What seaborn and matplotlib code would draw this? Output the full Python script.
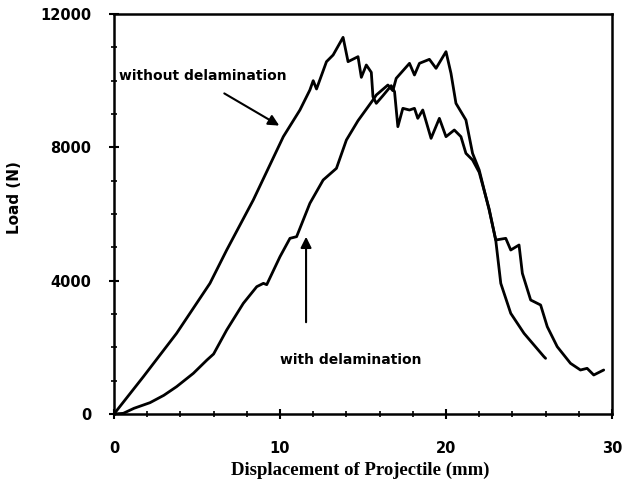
import matplotlib
matplotlib.use("Agg")
import matplotlib.pyplot as plt
import matplotlib.ticker as mticker
import pandas as pd
import seaborn as sns

DISP_WITHOUT = [0, 1.77, 3.77, 5.78, 6.79, 8.39, 10.2, 11.2, 11.8, 12.0, 12.2, 12.8, 13.2, 13.8,
                14.1, 14.7, 14.9, 15.2, 15.5, 15.6, 15.8, 16.2, 16.7, 16.9, 17.1, 17.4, 17.8, 18.1,
                18.3, 18.6, 19.1, 19.6, 20.0, 20.5, 20.9, 21.2, 21.6, 22.0, 22.6, 23.0, 23.3,
                23.9, 24.7, 25.9, 26.0]
LOAD_WITHOUT = [0, 1120, 2420, 3920, 4920, 6420, 8320, 9120, 9720, 10000, 9750, 10570, 10770, 11300,
                10570, 10720, 10100, 10470, 10250, 9520, 9320, 9550, 9850, 9670, 8620, 9170, 9120, 9170,
                8870, 9120, 8270, 8870, 8320, 8520, 8320, 7820, 7620, 7250, 6150, 5200, 3920,
                3020, 2420, 1720, 1670]

DISP_WITH = [0, 0.56, 1.2, 2.17, 3.0, 3.77, 4.78, 5.6, 6.0, 6.79, 7.79, 8.6, 9.0, 9.2, 10.0, 10.6,
             11.0, 11.8, 12.6, 13.4, 14.0, 14.7, 15.6, 15.8, 16.5, 16.8, 17.0, 17.8, 18.1, 18.4,
             19.0, 19.4, 20.0, 20.3, 20.6, 21.2, 21.6, 22.0, 22.6, 23.0, 23.6, 23.9, 24.4, 24.6,
             25.1, 25.7, 26.1, 26.7, 27.5, 28.1, 28.5, 28.9, 29.5]
LOAD_WITH = [0, 20, 170, 340, 560, 820, 1220, 1620, 1800, 2520, 3320, 3820, 3920, 3880, 4720, 5270,
             5320, 6320, 7020, 7370, 8220, 8800, 9420, 9570, 9870, 9700, 10070, 10520, 10170, 10520,
             10640, 10370, 10870, 10220, 9320, 8820, 7820, 7320, 6120, 5220, 5270, 4920, 5070, 4220,
             3420, 3270, 2620, 2020, 1520, 1320, 1370, 1170, 1320]

X_TICKS = [0, 10, 20, 30]
Y_TICKS = [0, 4000, 8000, 12000]

df = pd.concat([
    pd.DataFrame({"disp": DISP_WITHOUT, "load": LOAD_WITHOUT, "case": "without delamination"}),
    pd.DataFrame({"disp": DISP_WITH, "load": LOAD_WITH, "case": "with delamination"}),
])

sns.set_style("ticks")
plt.rcParams["text.color"] = "black"
fig = plt.figure(figsize=(6.22, 4.83), dpi=100)
ax = fig.add_axes([114 / 622, 1 - 414 / 483, 498 / 622, 400 / 483])

sns.lineplot(data=df, x="disp", y="load", units="case", estimator=None, sort=False,
             color="black", linewidth=2, ax=ax, legend=False)

ax.set_xlim(0, 30)
ax.set_ylim(0, 12000)
ax.set_xticks(X_TICKS)
ax.set_yticks(Y_TICKS)
ax.xaxis.set_minor_locator(mticker.MultipleLocator(2))
ax.yaxis.set_minor_locator(mticker.MultipleLocator(1000))
ax.tick_params(which="major", direction="inout", length=7, width=1.5, colors="black")
ax.tick_params(which="minor", direction="inout", length=5, width=1.2, colors="black")
ax.tick_params(axis="x", which="major", pad=16)
ax.tick_params(axis="y", which="major", pad=13)
for lab in ax.get_xticklabels() + ax.get_yticklabels():
    lab.set_fontfamily("DejaVu Sans")
    lab.set_fontweight("bold")
    lab.set_fontsize(10.5)
for sp in ax.spines.values():
    sp.set_visible(True)
    sp.set_linewidth(1.8)
    sp.set_color("black")

ax.set_xlabel("Displacement of Projectile (mm)", fontfamily="Liberation Serif",
              fontweight="bold", fontsize=13.5, color="black")
ax.set_ylabel("Load (N)", fontfamily="DejaVu Sans", fontweight="bold", fontsize=11,
              color="black")
ax.xaxis.set_label_coords(0.495, -0.12)
ax.yaxis.set_label_coords(-0.185, 0.54)

ax.text(0.3, 10140, "without delamination", fontfamily="DejaVu Sans", fontweight="bold",
        fontsize=10, va="center", ha="left", color="black")
ax.annotate("", xy=(10.1, 8610), xytext=(6.5, 9660),
            arrowprops=dict(arrowstyle="-|>", color="black", lw=1.5, mutation_scale=16))
ax.text(10.0, 1620, "with delamination", fontfamily="DejaVu Sans", fontweight="bold",
        fontsize=10, va="center", ha="left", color="black")
ax.annotate("", xy=(11.57, 5400), xytext=(11.57, 2670),
            arrowprops=dict(arrowstyle="-|>", color="black", lw=1.5, mutation_scale=16))

fig.savefig("out.png", dpi=100)
